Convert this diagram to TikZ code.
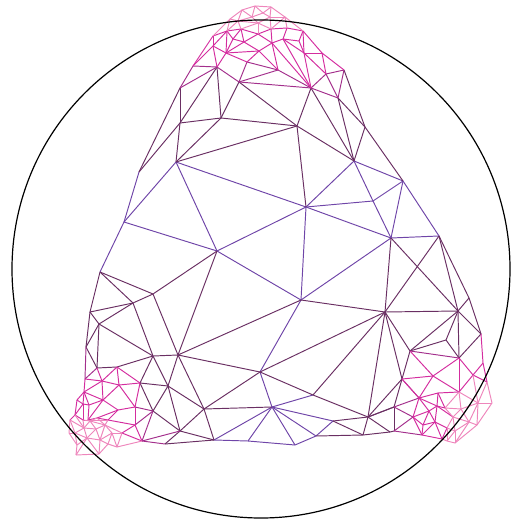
\documentclass[tikz,border=0pt]{standalone}
\definecolor{cpurple}{HTML}{6F45A8}
\definecolor{cplum}{HTML}{6A2F63}
\definecolor{cmid}{HTML}{A32F8C}
\definecolor{cmag}{HTML}{D42D9F}
\definecolor{cpink}{HTML}{EE86BC}
\tikzset{
  purpleline/.style={draw=cpurple,line width=0.72pt},
  plumline/.style={draw=cplum,line width=0.72pt},
  midline/.style={draw=cmid,line width=0.72pt},
  magline/.style={draw=cmag,line width=0.72pt},
  pinkline/.style={draw=cpink,line width=0.72pt},
  rim/.style={circle,draw=black,line width=0.9pt,minimum size=373.5pt,inner sep=0pt}
}
\begin{document}
\begin{tikzpicture}[x=0.75pt,y=-0.75pt]
\useasboundingbox (0,0) rectangle (519,523);
% vertices
\foreach \n/\x/\y in {
p1/255/6,p2/271/7,p3/242/10,p4/285/17,p5/230/19,p6/303/31,p7/213/36,p8/252/17,p9/263/13,p10/270/17,p11/238/21,p12/258/23,
m1/227/31,m2/241/29,m3/258/34,m4/271/29,m5/287/28,m6/233/39,m7/244/42,m8/272/43,m9/283/39,m10/299/41,m11/213/46,m12/226/53,m13/259/51,m14/304/53,m15/322/53,
d1/193/66,d2/217/67,d3/180/88,d4/239/82,d5/247/62,d6/278/70,d7/311/88,d8/326/74,d9/344/70,d10/338/98,
A/176/162,B/124/222,C/217/251,D/306/207,E/301/300,F/297/126,G/180/123,H/221/118,I/139/172,
K/153/294,L/100/272,M/133/303,N/90/312,O/99/324,P/86/347,Q/153/356,R/178/355,S/97/368,U/117/367,V/140/383,W/168/386,
u5/365/127,u7/354/161,u8/403/181,u9/373/201,u11/391/238,u12/439/236,v/469/298,
a3/85/379,a4/102/381,a5/84/392,a6/103/400,a7/119/385,a8/118/410,a9/135/407,a10/153/411,a11/135/425,a12/142/441,a13/165/444,a17/77/400,a18/108/420,a19/122/433,
c3/83/404,c4/89/405,c6/75/415,c7/83/420,c8/88/420,
g1/70/420,g2/69/433,g3/76/455,g4/99/454,g5/117/447,g6/100/440,g7/84/428,g8/105/425,g9/96/429,g10/75/433,g11/87/438,g12/77/445,g13/90/421,g15/97/418,g16/112/433,g17/108/444,
b2/260/372,b3/313/395,b4/272/407,b5/204/409,b6/180/431,b7/214/440,b8/248/441,b9/295/445,b10/316/436,b11/333/421,b12/363/435,b13/368/417,b14/390/432,
r1/385/312,r2/458/311,r3/481/334,r4/446/340,r5/410/351,r6/459/358,r7/483/363,r8/473/375,r9/433/376,r10/402/379,r11/487/382,r12/459/392,r13/438/393,r14/419/398,r15/478/403,r16/492/403,r17/445/408,r18/437/406,r19/394/407,r20/461/409,r21/429/411,r22/413/417,r23/469/422,r24/453/417,r25/435/422,r26/423/425,r27/394/431,r29/422/435,r30/447/428,r31/442/439,r32/455/443,r33/447/441,r34/477/425,r35/455/431
} \coordinate (\n) at (\x,\y);
% interior edges
\foreach \a/\b in {A/B,A/C,A/D,B/C,B/I,B/L,C/D,C/E,D/E,D/u11,E/u11,u7/u8,u7/u9,u8/u9,u9/D,u9/u11,u8/u11,u8/u12,u11/u12,u7/D,
E/b2,b2/b4,b3/b4,b4/b7,b4/b8,b4/b9,b4/b10,b4/b11,b7/b8,b8/b9,b9/b10,b10/b11}
  \draw[purpleline] (\a)--(\b);
\foreach \a/\b in {A/G,A/H,A/F,G/H,H/F,F/D,F/u7,G/I,I/d3,G/d3,G/d2,H/d2,H/d4,d4/F,F/d7,d7/u7,d10/u7,d10/u5,d9/u5,u5/u7,u5/u8,
C/K,C/R,R/E,E/r1,b2/r1,b3/r1,b2/b3,b2/R,b5/R,b2/b5,b4/b5,b3/b13,b13/r1,b11/b13,b11/b12,b10/b12,b12/b13,b12/b14,b13/r10,b13/r19,b13/b14,b14/r27,r1/u11,u11/r2,u12/r1,u12/r2,u12/v,v/r3,v/r2,r1/r2,r1/r5,r1/r10,r2/r3,r2/r4,r2/r5,r4/r5,r4/r6,r2/r6,r3/r6,r5/r10,
L/K,L/M,L/N,N/M,N/O,N/P,O/M,O/P,O/S,O/Q,P/S,M/K,M/Q,K/R,Q/R,U/Q,Q/V,Q/W,R/W,V/W,W/b5,W/b6,b5/b6,b5/b7,b6/b7,b6/a10,W/a10,V/a10,S/U,
a13/b7,a13/b6,r19/r10,r19/r27,r19/b13}
  \draw[plumline] (\a)--(\b);
\foreach \a/\b in {d1/d2,d2/d3,d1/d3,d2/d4,d4/d5,d4/d6,d4/d7,d5/d6,d6/d7,d7/d8,d8/d9,d8/d10,d9/d10,d7/d10,P/a3,S/a3,r5/r6,r10/r14,r14/r19,r19/r22,r22/r27,r27/r29,a9/a10,a10/a11,a10/a12,a12/a13,b6/a12}
  \draw[midline] (\a)--(\b);
% magenta edges
\foreach \a/\b in {d1/m11,d1/p7,d2/m11,d2/m12,d5/m12,d5/m13,d6/m13,d6/m8,d7/m8,d7/m9,d7/m14,d8/m14,d8/m15,d9/m15,
p7/m11,p7/m1,m11/m12,m11/m1,m1/m12,m1/m6,m1/m2,m2/m6,m6/m7,m6/m12,m2/m7,m2/m3,m3/m7,m7/m12,m7/m13,m12/m13,m3/m8,m8/m13,m3/m4,m4/m8,m4/m5,m5/m9,m5/p6,m9/m8,m9/m10,m10/p6,m10/m14,p6/m14,p6/m15,m14/m15,m9/m14,
S/a4,U/a4,U/a7,U/V,a3/a4,a3/a5,a4/a5,a4/a6,a4/a7,a7/a6,a7/V,a7/a9,V/a9,a5/a6,a5/a17,a5/c3,a5/c4,c3/a17,c3/c4,c3/c7,c4/c8,c4/a6,a6/a8,a6/c8,a8/a9,a8/a18,c8/g15,a18/g15,a8/g15,a9/a11,a18/a11,a11/a19,a11/a12,a19/a12,a17/c6,c3/c6,c6/c7,c7/c8,c6/g1,
r5/r9,r6/r9,r6/r8,r6/r12,r3/r7,r7/r8,r7/r11,r8/r11,r8/r12,r9/r10,r9/r12,r9/r14,r10/r14,r14/r13,r13/r12,r13/r18,r13/r17,r14/r18,r14/r22,r14/r21,r22/r21,r22/r26,r22/r29,r29/r31,r29/r25,r29/r26,r21/r18,r21/r26,r21/r25,r18/r25,r18/r24,r25/r26,r25/r30,r25/r31,r30/r31,r18/r17}
  \draw[magline] (\a)--(\b);
% pink edges
\foreach \a/\b in {p1/p2,p2/p4,p4/p6,p1/p3,p3/p5,p5/p7,p1/p8,p3/p8,p8/p9,p9/p1,p9/p2,p9/p10,p10/p2,p10/p4,p3/p11,p5/p11,p11/p8,p8/p12,p12/p10,p5/m1,p11/m1,p11/m2,p11/p12,p12/m2,p12/m3,p12/m4,p10/m4,p4/m4,p4/m5,
c6/g7,c7/g7,c7/g13,c8/g13,c8/a18,g13/g15,g15/g8,g1/g2,g2/g12,g12/g3,g3/g4,g4/g17,g17/g5,g5/a12,g1/g10,g2/g10,g10/g12,g10/g7,g1/g7,g7/g11,g10/g11,g11/g12,g11/g3,g11/g4,g11/g6,g6/g4,g6/g17,g17/g16,g6/g9,g9/g11,g7/g9,g7/g13,g13/g9,g9/g8,g8/g6,g6/g16,g16/g5,g16/a19,a19/g5,g8/g16,g8/a19,g8/a18,g13/g8,
r12/r15,r12/r20,r12/r17,r17/r20,r17/r24,r20/r15,r20/r23,r20/r24,r15/r16,r15/r11,r16/r11,r15/r8,r15/r34,r15/r23,r16/r34,r23/r34,r34/r32,r23/r24,r23/r35,r24/r35,r24/r30,r35/r32,r35/r30,r30/r33,r35/r33,r33/r32,r31/r33,r23/r32}
  \draw[pinkline] (\a)--(\b);
\node[rim] (disc) at (261,269) {};
\end{tikzpicture}
\end{document}
